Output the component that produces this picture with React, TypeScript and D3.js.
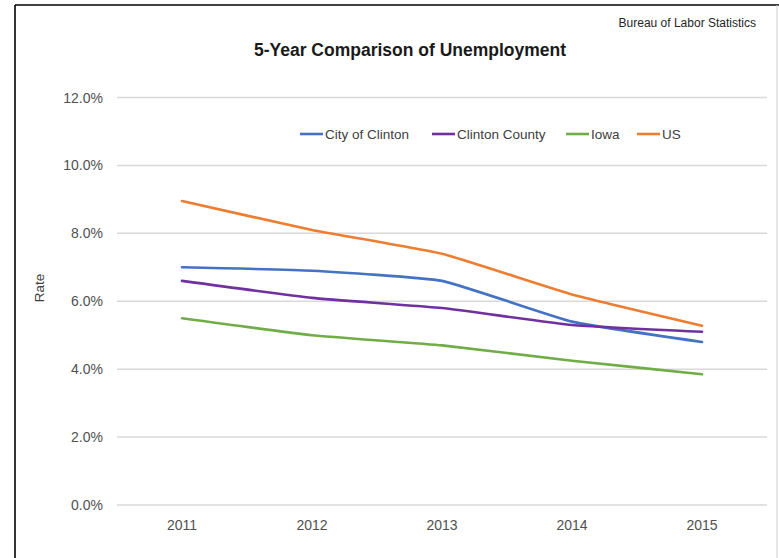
import React from "react";
import * as d3 from "d3";

const years = ["2011", "2012", "2013", "2014", "2015"];
const cityOfClinton = [7.0, 6.9, 6.6, 5.4, 4.8];
const clintonCounty = [6.6, 6.1, 5.8, 5.3, 5.1];
const iowa = [5.5, 5.0, 4.7, 4.25, 3.85];
const us = [8.95, 8.1, 7.4, 6.2, 5.28];
const yTicks = [0, 2, 4, 6, 8, 10, 12];
const seriesNames = ["City of Clinton", "Clinton County", "Iowa", "US"];
const seriesColors = ["#4472C4", "#7030A0", "#70AD47", "#ED7D31"];

const W = 779;
const H = 558;
const FONT = "'Liberation Sans', Arial, sans-serif";

export default function App() {
  const series = [cityOfClinton, clintonCounty, iowa, us];
  const x = d3.scaleBand<string>().domain(years).range([117, 767]);
  const y = d3.scaleLinear().domain([0, 12]).range([505, 97.5]);
  const line = d3
    .line<number>()
    .x((_, i) => (x(years[i]) as number) + x.bandwidth() / 2)
    .y((d) => y(d))
    .curve(d3.curveCardinal.tension(0.6));

  const legendX = [300, 432, 566, 637];

  return (
    <svg
      width={W}
      height={H}
      style={{ position: "absolute", left: 0, top: 0, background: "#fff" }}
      fontFamily={FONT}
    >
      <rect x={0} y={0} width={W} height={H} fill="#fff" />
      <line x1={15} y1={5} x2={W} y2={5} stroke="#000" strokeWidth={1.6} />
      <line x1={15} y1={5} x2={15} y2={H} stroke="#000" strokeWidth={1.6} />
      <line x1={777} y1={5} x2={777} y2={H} stroke="#d0d0d0" strokeWidth={1} />

      <text x={756} y={27} textAnchor="end" fontSize={12} fill="#262626">
        Bureau of Labor Statistics
      </text>
      <text x={410} y={56} textAnchor="middle" fontSize={17.5} fontWeight="bold" fill="#1a1a1a">
        5-Year Comparison of Unemployment
      </text>

      {yTicks.map((t) => (
        <g key={t}>
          <line x1={117} x2={767} y1={y(t)} y2={y(t)} stroke="#d9d9d9" strokeWidth={1.5} />
          <text x={103} y={y(t) + 5} textAnchor="end" fontSize={14} fill="#505050">
            {t.toFixed(1) + "%"}
          </text>
        </g>
      ))}

      {years.map((yr) => (
        <text
          key={yr}
          x={(x(yr) as number) + x.bandwidth() / 2}
          y={530}
          textAnchor="middle"
          fontSize={14}
          fill="#505050"
        >
          {yr}
        </text>
      ))}

      <text
        transform="translate(44,288) rotate(-90)"
        textAnchor="middle"
        fontSize={13.5}
        fill="#404040"
      >
        Rate
      </text>

      {series.map((s, i) => (
        <path
          key={seriesNames[i]}
          d={line(s) || ""}
          fill="none"
          stroke={seriesColors[i]}
          strokeWidth={2.6}
          strokeLinecap="round"
          strokeLinejoin="round"
        />
      ))}

      {seriesNames.map((n, i) => (
        <g key={n}>
          <line
            x1={legendX[i]}
            x2={legendX[i] + 23}
            y1={134}
            y2={134}
            stroke={seriesColors[i]}
            strokeWidth={2.6}
          />
          <text x={legendX[i] + 25} y={139} fontSize={13.5} fill="#404040">
            {n}
          </text>
        </g>
      ))}
    </svg>
  );
}
